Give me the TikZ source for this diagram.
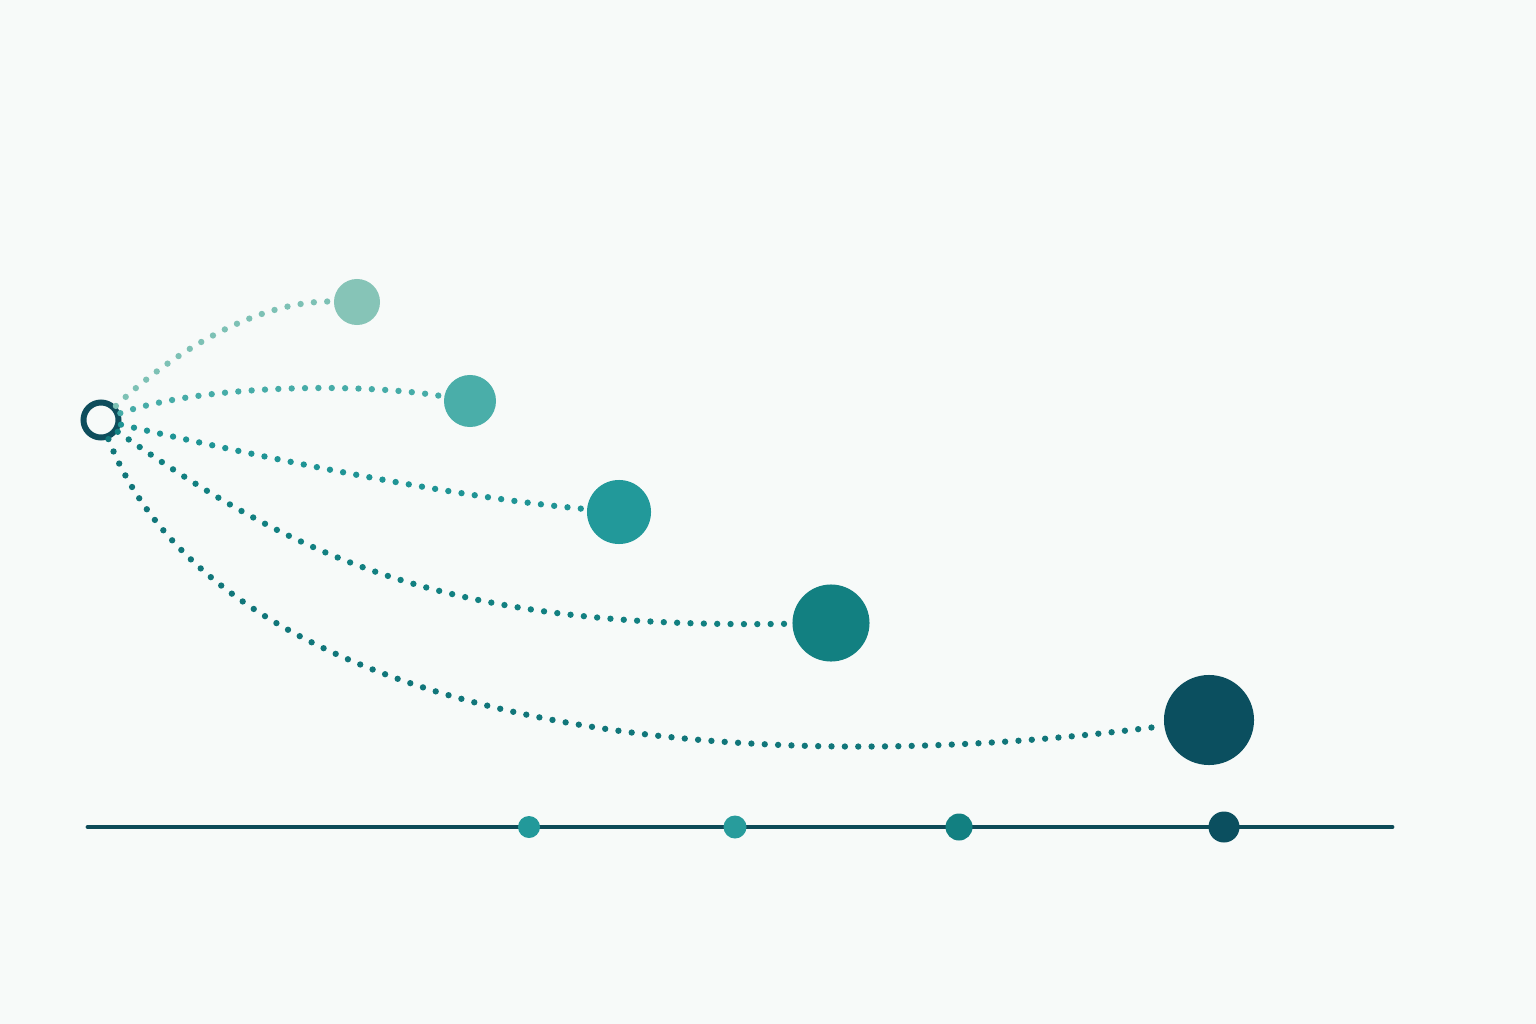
\documentclass[tikz,border=0pt]{standalone}
\begin{document}
\begin{tikzpicture}[x=0.01cm, y=-0.01cm,
    ball/.style={circle, inner sep=0pt, draw=none},
    trail/.style={line width=1.8pt, line cap=round, dash pattern=on 0pt off 3.8pt}]
            \definecolor{bg}{HTML}{F7FAF9}
            \definecolor{hubc}{HTML}{0E4D5C}
            \definecolor{ballA}{HTML}{86C4B7}
            \definecolor{ballB}{HTML}{4AAEA9}
            \definecolor{ballC}{HTML}{22999A}
            \definecolor{ballD}{HTML}{128081}
            \definecolor{ballE}{HTML}{0B4F5F}
            \definecolor{axisc}{HTML}{0D4B58}
            \fill[bg] (0,0) rectangle (1536,1024);
            \useasboundingbox (0,0) rectangle (1536,1024);

            \node (hub) at (101,420) [circle, draw=hubc, line width=1.7pt, minimum size=0.35cm, inner sep=0pt] {};
            \node (b1) at (357,302) [ball, fill=ballA, minimum size=0.46cm] {};
            \node (b2) at (470,401) [ball, fill=ballB, minimum size=0.52cm] {};
            \node (b3) at (619,512) [ball, fill=ballC, minimum size=0.64cm] {};
            \node (b4) at (831,623) [ball, fill=ballD, minimum size=0.77cm] {};
            \node (b5) at (1209,720) [ball, fill=ballE, minimum size=0.90cm] {};

            \draw[trail, color=ballA!85!ballB] (hub) .. controls (175,350) and (260,300) .. (b1);
            \draw[trail, color=ballB!90!ballC] (hub) .. controls (200,385) and (360,382) .. (b2);
            \draw[trail, color=ballC!80!ballD] (hub) .. controls (260,457) and (450,497) .. (b3);
            \draw[trail, color=ballD] (hub) .. controls (300,560) and (450,630) .. (b4);
            \draw[trail, color=ballD!80!ballE] (hub) .. controls (210,700) and (660,792) .. (b5);

            \coordinate (axL) at (88,827);
            \coordinate (axR) at (1392,827);
            \draw[axisc, line width=1.4pt, line cap=round] (axL) -- (axR);
            \node (t1) at (529,827) [ball, fill=ballC, minimum size=0.22cm] {};
            \node (t2) at (735,827) [ball, fill=ballC!85!ballB, minimum size=0.23cm] {};
            \node (t3) at (959,827) [ball, fill=ballD, minimum size=0.27cm] {};
            \node (t4) at (1224,827) [ball, fill=ballE, minimum size=0.31cm] {};
        \end{tikzpicture}
\end{document}
